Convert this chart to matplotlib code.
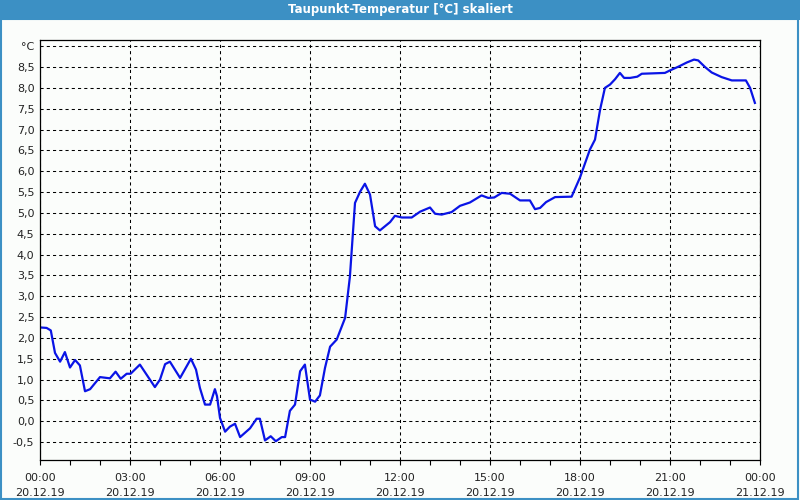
import matplotlib
matplotlib.use("Agg")
import matplotlib.pyplot as plt
from matplotlib.patches import Rectangle

TITLE = "Taupunkt-Temperatur [°C] skaliert"

# hours since 20.12.19 00:00
hours = [
    0.03, 0.22, 0.36, 0.5, 0.67, 0.83, 1.0, 1.17, 1.33, 1.5, 1.67, 2.0, 2.33,
    2.52, 2.69, 2.89, 3.02, 3.33, 3.83, 4.0, 4.17, 4.33, 4.67, 5.03, 5.2, 5.33,
    5.5, 5.67, 5.83, 5.9, 6.0, 6.17, 6.33, 6.5, 6.67, 7.0, 7.22, 7.33, 7.5,
    7.69, 7.86, 8.06, 8.17, 8.33, 8.5, 8.67, 8.83, 9.0, 9.17, 9.33, 9.5, 9.67,
    9.89, 10.17, 10.33, 10.5, 10.67, 10.83, 11.0, 11.17, 11.33, 11.67, 11.83,
    12.06, 12.39, 12.67, 13.0, 13.17, 13.39, 13.72, 14.0, 14.33, 14.72, 14.94,
    15.14, 15.39, 15.67, 16.0, 16.33, 16.5, 16.67, 16.87, 17.17, 17.72, 18.0,
    18.33, 18.5, 18.67, 18.83, 19.0, 19.17, 19.33, 19.47, 19.67, 19.91, 20.06,
    20.83, 21.0, 21.28, 21.56, 21.8, 21.94, 22.17, 22.39, 22.72, 23.06, 23.33,
    23.53, 23.67, 23.83,
]
values = [
    2.25, 2.24, 2.18, 1.64, 1.43, 1.66, 1.29, 1.47, 1.34, 0.72, 0.77, 1.06, 1.03,
    1.19, 1.02, 1.14, 1.14, 1.36, 0.82, 1.0, 1.37, 1.43, 1.04, 1.5, 1.24, 0.8,
    0.4, 0.4, 0.77, 0.6, 0.08, -0.25, -0.13, -0.06, -0.38, -0.17, 0.06, 0.06, -0.46,
    -0.36, -0.48, -0.38, -0.38, 0.25, 0.4, 1.2, 1.36, 0.52, 0.47, 0.62, 1.28, 1.79,
    1.96, 2.48, 3.47, 5.24, 5.51, 5.7, 5.44, 4.68, 4.58, 4.78, 4.93,
    4.89, 4.89, 5.03, 5.13, 4.98, 4.96, 5.02, 5.17, 5.25, 5.42, 5.36,
    5.37, 5.48, 5.46, 5.3, 5.3, 5.09, 5.12, 5.26, 5.38, 5.39, 5.85,
    6.52, 6.76, 7.48, 8.0, 8.08, 8.21, 8.36, 8.24, 8.24, 8.27, 8.34,
    8.36, 8.42, 8.51, 8.61, 8.68, 8.66, 8.5, 8.37, 8.26, 8.18, 8.18,
    8.18, 8.0, 7.64,
]

x_ticks = [0, 3, 6, 9, 12, 15, 18, 21, 24]
x_labels = [
    "00:00\n20.12.19", "03:00\n20.12.19", "06:00\n20.12.19", "09:00\n20.12.19",
    "12:00\n20.12.19", "15:00\n20.12.19", "18:00\n20.12.19", "21:00\n20.12.19",
    "00:00\n21.12.19",
]
y_ticks = [v / 2 for v in range(-1, 19)]
y_labels = [f"{v:.1f}".replace(".", ",") for v in y_ticks[:-1]] + ["°C"]

BAR = "#3c90c4"
BG = "#fbfdfb"

fig = plt.figure(figsize=(8, 5), dpi=100, facecolor=BG)

# title bar and window frame
fig.patches.append(Rectangle((0, 0.96), 1, 0.04, transform=fig.transFigure,
                             facecolor=BAR, edgecolor="none"))
fig.patches.append(Rectangle((0.001, 0.003), 0.997, 0.96, transform=fig.transFigure,
                             facecolor="none", edgecolor=BAR, linewidth=1.5))
fig.text(0.5, 0.98, TITLE, ha="center", va="center", color="white",
         fontsize=8.5, fontweight="bold")

ax = fig.add_axes([0.05, 0.08, 0.90, 0.84])
ax.set_facecolor(BG)
ax.plot(hours, values, color="#0a14e6", linewidth=1.6)

ax.set_xlim(0, 24)
ax.set_ylim(-0.93, 9.15)
ax.set_xticks(x_ticks)
ax.set_xticklabels(x_labels, fontsize=8, color="#222222", linespacing=1.6)
ax.set_xticks(range(0, 25), minor=True)
ax.set_yticks(y_ticks)
ax.set_yticklabels(y_labels, fontsize=8, color="#222222")

ax.tick_params(axis="x", which="both", direction="out", length=3.5, width=0.8, pad=6)
ax.tick_params(axis="y", length=0, pad=4)
ax.grid(True, color="black", linestyle=(0, (3, 3)), linewidth=0.75)

for side in ["top", "right", "bottom", "left"]:
    ax.spines[side].set_linewidth(0.9)
    ax.spines[side].set_color("black")

fig.savefig("out.png", dpi=100, facecolor=BG)
